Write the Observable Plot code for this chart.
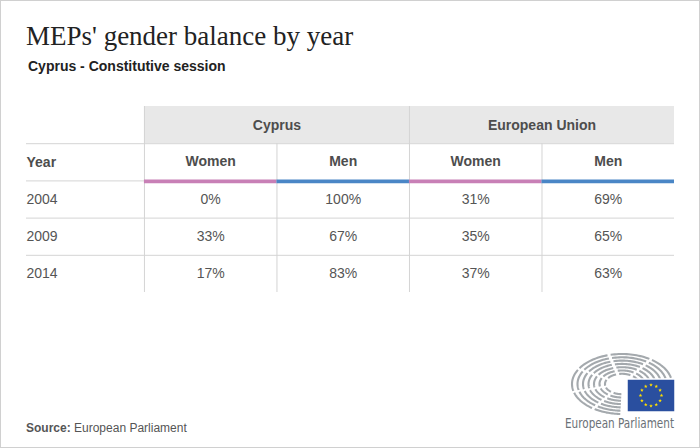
<!DOCTYPE html>
<html><head><meta charset="utf-8">
<script src="https://cdn.jsdelivr.net/npm/d3@7"></script>
<script src="https://cdn.jsdelivr.net/npm/@observablehq/plot@0.6"></script>
<style>
html,body{margin:0;padding:0;background:#fff;}
#frame{position:relative;width:700px;height:448px;outline:1px solid #d0d0d0;outline-offset:-1px;overflow:hidden;font-family:"Liberation Sans",Arial,sans-serif;}
#frame > svg{position:absolute;left:0;}
</style></head><body><div id="frame"></div>
<script>
// ---- data ----
const years = ["2004", "2009", "2014"];
const groups = ["Cyprus", "European Union"];
const genders = ["Women", "Men"];
const cyprusWomen = [0, 33, 17];
const cyprusMen = [100, 67, 83];
const euWomen = [31, 35, 37];
const euMen = [69, 65, 63];
const yearLabel = "Year";
const titleText = "MEPs' gender balance by year";
const subtitleText = "Cyprus - Constitutive session";
const sourceLabel = "Source:";
const sourceText = "European Parliament";
const logoText = "European Parliament";

// ---- derived table ----
const series = [cyprusWomen, cyprusMen, euWomen, euMen];
const columns = [];
groups.forEach((g, gi) => genders.forEach((s, si) => {
  const col = gi * genders.length + si;
  columns.push({group: g, gender: s, col, values: series[col]});
}));
const ncols = columns.length;
const groupRows = groups.map((g, gi) => ({group: g, x1: gi * genders.length, x2: (gi + 1) * genders.length}));
const cells = columns.flatMap(c => c.values.map((v, ri) => ({col: c.col, row: ri, text: `${v}%`})));
const yearRows = years.map((y, ri) => ({row: ri, text: y}));
const dividers = columns.map(c => ({x: c.col, top: c.col % genders.length === 0 ? -2 : -1}));
const hLines = [-1, ...years.map((_, i) => i)];
const yearCol = -0.89;

const frame = document.getElementById("frame");

// ---- title / source / logo ----
const deco = d3.create("svg").attr("width", 700).attr("height", 448).style("top", "0px");
deco.append("text").attr("x", 26).attr("y", 45)
  .attr("font-family", "'Liberation Serif', Georgia, serif").attr("font-size", 27).attr("fill", "#222")
  .text(titleText);
deco.append("text").attr("x", 28).attr("y", 71)
  .attr("font-family", "'Liberation Sans', Arial, sans-serif").attr("font-size", 14).attr("font-weight", "bold").attr("fill", "#222")
  .text(subtitleText);
const src = deco.append("text").attr("x", 26).attr("y", 432)
  .attr("font-family", "'Liberation Sans', Arial, sans-serif").attr("font-size", 12).attr("fill", "#555");
src.append("tspan").attr("font-weight", "bold").text(sourceLabel);
src.append("tspan").text(" " + sourceText);

// logo: hemicycle
const lg = deco.append("g");
const cx = 622, cy = 384;
const radii = [17, 22.5, 28, 33.5, 39, 44.5, 50];
const aisles = [-55, -105, -150, -195, -235];
radii.forEach(rx => {
  const ry = rx * 0.6;
  const a0 = -12, a1 = -268;
  const cuts = [a0, ...aisles, a1];
  for (let k = 0; k < cuts.length - 1; k++) {
    const gap = (1.6 / rx) * 180 / Math.PI;
    const s = cuts[k] - (k === 0 ? 0 : gap), e = cuts[k + 1] + (k === cuts.length - 2 ? 0 : gap);
    const pts = d3.range(0, 21).map(i => {
      const t = (s + (e - s) * i / 20) * Math.PI / 180;
      return [cx + rx * Math.cos(t), cy + ry * Math.sin(t)];
    });
    lg.append("path").attr("d", d3.line()(pts)).attr("fill", "none")
      .attr("stroke", "#a4a9ad").attr("stroke-width", 2.1);
  }
});
// flag
lg.append("rect").attr("x", 627).attr("y", 379).attr("width", 48).attr("height", 33)
  .attr("fill", "#2a4f9f").attr("stroke", "#fff").attr("stroke-width", 1.5);
const starPath = (x, y, r) => {
  const p = [];
  for (let i = 0; i < 10; i++) {
    const a = -Math.PI / 2 + i * Math.PI / 5;
    const rr = i % 2 ? r * 0.42 : r;
    p.push([x + rr * Math.cos(a), y + rr * Math.sin(a)]);
  }
  return "M" + p.join("L") + "Z";
};
for (let i = 0; i < 12; i++) {
  const a = i * Math.PI / 6;
  lg.append("path").attr("d", starPath(651 + 10.5 * Math.cos(a), 395.5 + 10.5 * Math.sin(a), 1.9)).attr("fill", "#ffde00");
}
lg.append("text").attr("x", 565).attr("y", 428)
  .attr("font-family", "'Liberation Sans Narrow', 'DejaVu Sans Condensed', Roboto, sans-serif")
  .attr("font-size", 13.5).attr("fill", "#6b7177")
  .attr("textLength", 109).attr("lengthAdjust", "spacingAndGlyphs")
  .text(logoText);
frame.appendChild(deco.node());

// ---- table with Plot ----
const grid = "#d4d4d4";
const headColor = "#4d4d4d";
const cellColor = "#555";
const chart = Plot.plot({
  width: 700,
  height: 206,
  marginLeft: 26,
  marginRight: 26,
  marginTop: 10,
  marginBottom: 10,
  style: {background: "none", fontFamily: "'Liberation Sans', Arial, sans-serif"},
  x: {domain: [yearCol, ncols], axis: null},
  y: {domain: [-2, years.length], reverse: true, axis: null},
  color: {domain: genders, range: ["#c880b6", "#4a86c6"]},
  marks: [
    Plot.rect(groupRows, {x1: "x1", x2: "x2", y1: () => -2, y2: () => -1, fill: "#e8e8e8"}),
    Plot.ruleY(hLines, {y: d => d, x1: () => yearCol, x2: () => ncols, stroke: grid}),
    Plot.ruleX(dividers, {x: "x", y1: "top", y2: () => years.length, stroke: grid}),
    Plot.ruleY(columns, {y: () => 0, x1: "col", x2: d => d.col + 1, stroke: "gender", strokeWidth: 3.6, dy: 0.5}),
    Plot.text(groupRows, {x: d => (d.x1 + d.x2) / 2, y: () => -1.5, text: "group", fontWeight: "bold", fontSize: 14, fill: headColor}),
    Plot.text(columns, {x: d => d.col + 0.5, y: () => -0.5, dy: -1, text: "gender", fontWeight: "bold", fontSize: 14, fill: headColor}),
    Plot.text([yearLabel], {x: () => yearCol, y: () => -0.5, text: d => d, textAnchor: "start", fontWeight: "bold", fontSize: 14, fill: headColor}),
    Plot.text(yearRows, {x: () => yearCol, y: d => d.row + 0.5, text: "text", textAnchor: "start", fontSize: 14, fill: cellColor}),
    Plot.text(cells, {x: d => d.col + 0.5, y: d => d.row + 0.5, text: "text", fontSize: 14, fill: cellColor})
  ]
});
chart.style.top = "96px";
frame.appendChild(chart);
</script></body></html>
